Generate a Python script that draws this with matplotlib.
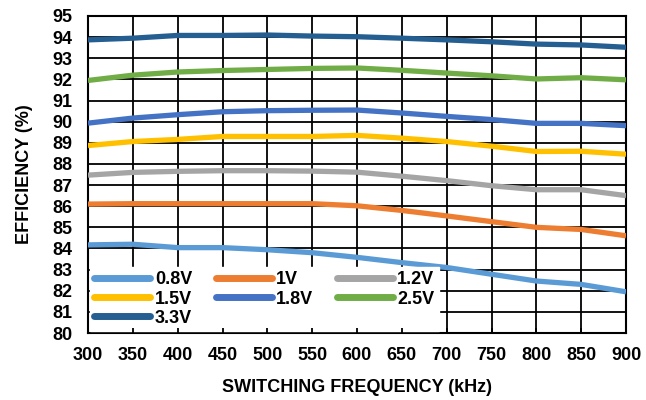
import matplotlib.pyplot as plt
import numpy as np

freq = [300, 350, 400, 450, 500, 550, 600, 650, 700, 750, 800, 850, 900]

eff_08 = [84.17, 84.2, 84.04, 84.04, 83.94, 83.8, 83.58, 83.33, 83.1, 82.78, 82.46, 82.3, 81.95]
eff_10 = [86.1, 86.12, 86.12, 86.12, 86.12, 86.12, 86.02, 85.8, 85.54, 85.27, 85.0, 84.9, 84.6]
eff_12 = [87.47, 87.6, 87.65, 87.68, 87.68, 87.66, 87.61, 87.42, 87.21, 86.97, 86.78, 86.78, 86.5]
eff_15 = [88.87, 89.06, 89.16, 89.3, 89.3, 89.3, 89.35, 89.22, 89.06, 88.84, 88.59, 88.6, 88.46]
eff_18 = [89.93, 90.17, 90.33, 90.47, 90.52, 90.54, 90.55, 90.41, 90.25, 90.1, 89.92, 89.92, 89.81]
eff_25 = [91.95, 92.2, 92.35, 92.42, 92.47, 92.52, 92.54, 92.43, 92.3, 92.17, 92.02, 92.08, 91.98]
eff_33 = [93.87, 93.95, 94.08, 94.08, 94.1, 94.05, 94.02, 93.95, 93.87, 93.78, 93.67, 93.63, 93.52]

labels = ['0.8V', '1V', '1.2V', '1.5V', '1.8V', '2.5V', '3.3V']
colors = ['#5B9BD5', '#ED7D31', '#A5A5A5', '#FFC000', '#4472C4', '#70AD47', '#255E91']
series = [eff_08, eff_10, eff_12, eff_15, eff_18, eff_25, eff_33]

plt.rcParams['font.family'] = ['Liberation Sans', 'DejaVu Sans']
plt.rcParams['font.weight'] = 'bold'

fig = plt.figure(figsize=(6.46, 4.0), dpi=100)
ax = fig.add_axes([88 / 646, 1 - 333 / 400, 538 / 646, 317 / 400])

handles = []
for y, c, lab in zip(series, colors, labels):
    h, = ax.plot(freq, y, color=c, lw=3.8, label=lab, solid_capstyle='butt', zorder=3)
    handles.append(h)

ax.set_xlim(300, 900)
ax.set_ylim(80, 95)
ax.set_xticks(np.arange(300, 901, 50))
ax.set_yticks(np.arange(80, 96, 1))
ax.grid(True, color='black', lw=1.3)
ax.set_axisbelow(True)
for s in ax.spines.values():
    s.set_linewidth(1.5)
ax.tick_params(axis='x', labelsize=13, length=0, pad=10)
ax.tick_params(axis='y', labelsize=13, length=0, pad=11)

ax.set_xlabel('SWITCHING FREQUENCY (kHz)', fontsize=13, fontweight='bold')
ax.set_ylabel('EFFICIENCY (%)', fontsize=13, fontweight='bold')
ax.xaxis.set_label_coords(0.5, -0.146)
ax.yaxis.set_label_coords(-0.102, 0.5)

# legend filled row by row like the original (matplotlib fills by column)
order = [0, 3, 6, 1, 4, 2, 5]
leg = ax.legend([handles[i] for i in order], [labels[i] for i in order],
                ncol=3, loc='lower left', bbox_to_anchor=(0.0, 0.0), frameon=True,
                fancybox=False, edgecolor='white', framealpha=1, fontsize=13,
                handlelength=3.1, handletextpad=0.25, columnspacing=1.3,
                labelspacing=0.12, borderpad=0.25, borderaxespad=0.1)
leg.set_zorder(5)
for line in leg.get_lines():
    line.set_linewidth(5)
    line.set_solid_capstyle('round')

# short inward tick marks along the bottom, visible over the legend
ax.plot(ax.get_xticks(), np.full(len(ax.get_xticks()), 80.0), '|', color='black',
        ms=7, mew=1.3, zorder=6, clip_on=True)

fig.savefig('out.png', dpi=100)
